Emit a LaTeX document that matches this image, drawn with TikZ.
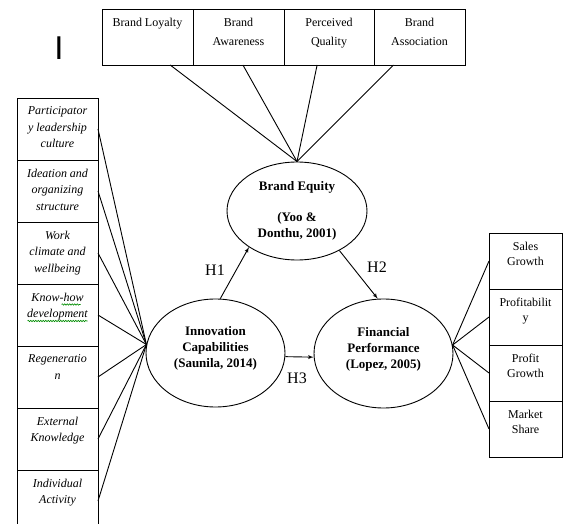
\documentclass[tikz,border=0pt]{standalone}
\usepackage{fontspec}
\setmainfont{Liberation Serif}
\newfontfamily\cursorfont{Liberation Sans}
\usetikzlibrary{shapes,arrows,positioning,calc,decorations.pathmorphing}
\tikzstyle{line} = [draw, -latex']
\tikzstyle{spoke} = [draw]
\tikzstyle{cell} = [draw, rectangle, inner xsep=0pt, inner ysep=9pt, outer sep=0pt, anchor=north west]
\tikzstyle{construct} = [draw, ellipse, inner sep=0pt, align=center, font=\fontsize{13}{16}\selectfont\bfseries]
\tikzstyle{hyp} = [font=\fontsize{16}{16}\selectfont]
\tikzstyle{squiggle} = [draw=green!55!black, line width=0.6pt, decorate, decoration={snake, amplitude=0.7pt, segment length=2.5pt}]
\newcommand{\celltext}[3]{\parbox[t][#1][t]{#2}{\centering #3}}

\begin{document}
\begin{tikzpicture}[x=1pt, y=-1pt, line width=0.9pt, auto]
    \useasboundingbox (0,0) rectangle (563,524);
    % brand equity dimensions
    \node [cell, font=\fontsize{12}{19}\selectfont] (loyal) at (102,9) {\celltext{38pt}{91pt}{Brand Loyalty}};
    \node [cell, font=\fontsize{12}{19}\selectfont, right=0pt of loyal] (aware) {\celltext{38pt}{91pt}{Brand\\Awareness}};
    \node [cell, font=\fontsize{12}{19}\selectfont, right=0pt of aware] (quality) {\celltext{38pt}{90pt}{Perceived\\Quality}};
    \node [cell, font=\fontsize{12}{19}\selectfont, right=0pt of quality] (assoc) {\celltext{38pt}{91pt}{Brand\\Association}};
    % innovation capability dimensions
    \node [cell, font=\fontsize{12}{16.5}\selectfont\itshape] (lead) at (17,98) {\celltext{44pt}{81pt}{Participator\\y leadership\\culture}};
    \node [cell, font=\fontsize{12}{16.5}\selectfont\itshape, below=0pt of lead] (idea) {\celltext{44pt}{81pt}{Ideation and\\organizing\\structure}};
    \node [cell, font=\fontsize{12}{16.5}\selectfont\itshape, below=0pt of idea] (climate) {\celltext{44pt}{81pt}{Work\\climate and\\wellbeing}};
    \node [cell, font=\fontsize{12}{16.5}\selectfont\itshape, below=0pt of climate] (knowhow) {\celltext{44pt}{81pt}{Know-how\\development}};
    \node [cell, font=\fontsize{12}{16.5}\selectfont\itshape, below=0pt of knowhow] (regen) {\celltext{44pt}{81pt}{Regeneratio\\n}};
    \node [cell, font=\fontsize{12}{16.5}\selectfont\itshape, below=0pt of regen] (external) {\celltext{44pt}{81pt}{External\\Knowledge}};
    \node [cell, font=\fontsize{12}{16.5}\selectfont\itshape, below=0pt of external] (individual) {\celltext{44pt}{81pt}{Individual\\Activity}};
    % financial performance dimensions
    \node [cell, font=\fontsize{12}{15}\selectfont] (sales) at (489,233) {\celltext{38pt}{73pt}{Sales\\Growth}};
    \node [cell, font=\fontsize{12}{15}\selectfont, below=0pt of sales] (profit) {\celltext{38pt}{73pt}{Profitabilit\\y}};
    \node [cell, font=\fontsize{12}{15}\selectfont, below=0pt of profit] (growth) {\celltext{38pt}{73pt}{Profit\\Growth}};
    \node [cell, font=\fontsize{12}{15}\selectfont, below=0pt of growth] (market) {\celltext{38pt}{73pt}{Market\\Share}};
    % constructs
    \node [construct, minimum width=140pt, minimum height=98pt] (be) at (297,211) {Brand Equity\\[15pt](Yoo \&\\Donthu, 2001)};
    \node [construct, minimum width=139pt, minimum height=108pt] (inno) at (215.5,353) {Innovation\\Capabilities\\(Saunila, 2014)\\[-4pt]\mbox{}};
    \node [construct, minimum width=139pt, minimum height=109pt] (fin) at (383.5,353.5) {Financial\\Performance\\(Lopez, 2005)\\[-4pt]\mbox{}};
    \node [font=\cursorfont\fontsize{33}{33}\selectfont] (cursor) at (59,48) {I};

    % spell-check marks
    \path [squiggle] ($(knowhow.north)+(4,20.5)$) -- ($(knowhow.north)+(23,20.5)$);
    \path [squiggle] ($(knowhow.north)+(-30,37)$) -- ($(knowhow.north)+(30,37)$);

    \foreach \cellname/\ang in {loyal/-51, aware/-81, quality/-113, assoc/-133}
        \path [spoke] (\cellname.\ang) -- (be.north);
    \foreach \cellname in {lead, idea, climate, knowhow, regen, external, individual}
        \path [spoke] (\cellname.east) -- (inno.173);
    \foreach \cellname in {sales, profit, growth, market}
        \path [spoke] (\cellname.west) -- (fin.7);

    \path [line] (inno.85) -- (be.217);
    \path [line] (be.-43) -- (fin.96);
    \path [line] (inno.-3) -- (fin.183);
    \node [hyp] (h1) at (215,270) {H1};
    \node [hyp] (h2) at (377,267) {H2};
    \node [hyp] (h3) at (297,378) {H3};
\end{tikzpicture}
\end{document}
